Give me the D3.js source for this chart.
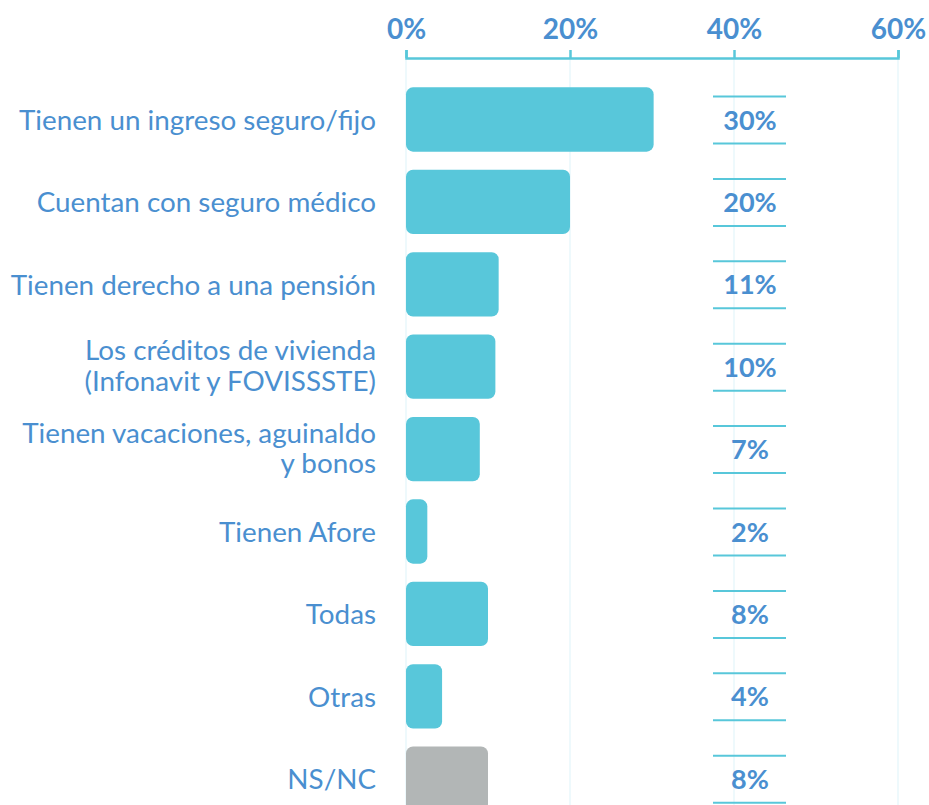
<!DOCTYPE html>
<html>
<head>
<meta charset="utf-8">
<script src="https://d3js.org/d3.v7.min.js"></script>
<style>
  body { margin: 0; background: #fff; }
  text { font-family: Lato, "Noto Sans", sans-serif; }
</style>
</head>
<body>
<div id="chart"></div>
<script>
// categories, one entry per line of label text
categories = [
  ["Tienen un ingreso seguro/fijo"],
  ["Cuentan con seguro médico"],
  ["Tienen derecho a una pensión"],
  ["Los créditos de vivienda", "(Infonavit y FOVISSSTE)"],
  ["Tienen vacaciones, aguinaldo", "y bonos"],
  ["Tienen Afore"],
  ["Todas"],
  ["Otras"],
  ["NS/NC"]
]
// bar lengths as drawn (percent)
barValues = [30.2, 20, 11.3, 10.9, 9.0, 2.6, 10, 4.4, 10]
// printed labels
valueLabels = ["30%", "20%", "11%", "10%", "7%", "2%", "8%", "4%", "8%"]
axisTicks = [0, 20, 40, 60]

width = 929
height = 805
blue = "#4a8fd0"
teal = "#58c7da"
grey = "#b2b6b6"

svg = d3.select('#chart')
  .append('svg')
  .attr('width', width)
  .attr('height', height)

rows = categories.map((c, i) => ({id: i, lines: c, value: barValues[i], label: valueLabels[i]}))

x = d3.scaleLinear()
  .domain([0, 60])
  .range([406, 898])

y = d3.scaleBand()
  .domain(rows.map(d => d.id))
  .range([78.3, 78.3 + 9 * 82.4])
  .paddingInner(0.22)
  .paddingOuter(0.11)

// light vertical grid
svg.append('g')
  .selectAll('line')
  .data(axisTicks)
  .enter().append('line')
  .attr('x1', d => x(d)).attr('x2', d => x(d))
  .attr('y1', 58).attr('y2', height)
  .attr('stroke', '#eef9fc')
  .attr('stroke-width', 2)

// top axis
axis = svg.append('g')
  .attr('transform', 'translate(0,58)')
  .call(d3.axisTop(x).tickValues(axisTicks).tickFormat(d => d + '%')
    .tickSizeInner(8).tickSizeOuter(8).tickPadding(11))
axis.select('.domain').attr('stroke', teal).attr('stroke-width', 2.5)
axis.selectAll('.tick line').attr('stroke', teal).attr('stroke-width', 2.5)
axis.selectAll('.tick text')
  .attr('fill', blue)
  .style('font-size', '28px')
  .style('font-weight', 'bold')
  .style('font-family', 'Lato, sans-serif')

// bars
svg.append('g')
  .selectAll('rect')
  .data(rows)
  .enter().append('rect')
  .attr('x', x(0))
  .attr('y', d => y(d.id))
  .attr('width', d => x(d.value) - x(0))
  .attr('height', y.bandwidth())
  .attr('rx', 7)
  .attr('fill', d => d.lines[0] == 'NS/NC' ? grey : teal)

// category labels
labels = svg.append('g')
  .selectAll('text')
  .data(rows)
  .enter().append('text')
  .attr('text-anchor', 'end')
  .attr('fill', blue)
  .style('font-size', '27.8px')

labels.selectAll('tspan')
  .data(d => d.lines.map((t, j) => ({t: t, j: j, n: d.lines.length, c: y(d.id) + y.bandwidth() / 2})))
  .enter().append('tspan')
  .attr('x', 376)
  .attr('y', d => d.n == 1 ? d.c + 10.5 : d.c - 6.5 + d.j * 30.5)
  .text(d => d.t)

// value labels with rules above and below
vals = svg.append('g')
  .selectAll('g')
  .data(rows)
  .enter().append('g')
  .attr('transform', d => 'translate(0,' + (y(d.id) + y.bandwidth() / 2) + ')')

vals.append('line')
  .attr('x1', 713).attr('x2', 786)
  .attr('y1', -23).attr('y2', -23)
  .attr('stroke', teal).attr('stroke-width', 2)
vals.append('line')
  .attr('x1', 713).attr('x2', 786)
  .attr('y1', 24).attr('y2', 24)
  .attr('stroke', teal).attr('stroke-width', 2)
vals.append('text')
  .attr('x', 750)
  .attr('y', 10)
  .attr('text-anchor', 'middle')
  .attr('fill', blue)
  .style('font-size', '27px')
  .style('font-weight', 'bold')
  .text(d => d.label)
</script>
</body>
</html>
